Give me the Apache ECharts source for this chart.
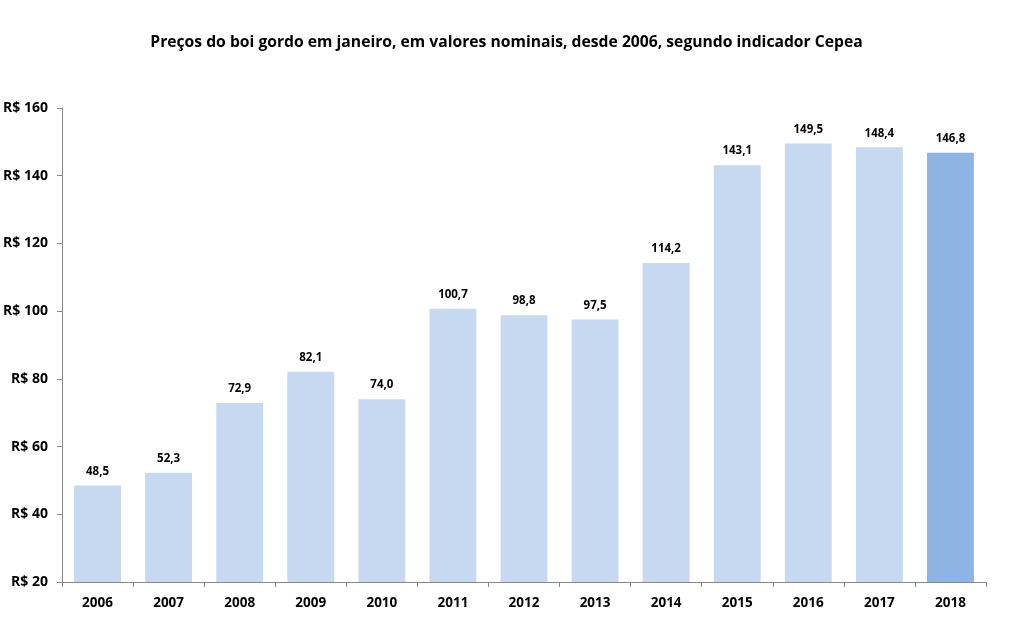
<!DOCTYPE html>
<html>
<head>
<meta charset="utf-8">
<script src="https://cdn.jsdelivr.net/npm/echarts@6/dist/echarts.min.js"></script>
<style>
  html, body { margin: 0; padding: 0; background: #fff; }
  #chart { width: 1013px; height: 632px; }
</style>
</head>
<body>
<div id="chart"></div>
<script>
const years = ["2006", "2007", "2008", "2009", "2010", "2011", "2012", "2013", "2014", "2015", "2016", "2017", "2018"];
const prices = [48.5, 52.3, 72.9, 82.1, 74.0, 100.7, 98.8, 97.5, 114.2, 143.1, 149.5, 148.4, 146.8];
const highlightYear = "2018";

const font = "'Open Sans', 'DejaVu Sans', sans-serif";

const chart = echarts.init(document.getElementById("chart"));

chart.setOption({
  animation: false,
  title: {
    text: "Preços do boi gordo em janeiro, em valores nominais, desde 2006, segundo indicador Cepea",
    left: "center",
    top: 30,
    textStyle: { fontFamily: font, fontSize: 15.7, fontWeight: "bold", color: "#000" }
  },
  grid: { left: 62, right: 27, top: 108, bottom: 50 },
  xAxis: {
    type: "category",
    data: years,
    axisLine: { lineStyle: { color: "#888" } },
    axisTick: { show: true, length: 5, lineStyle: { color: "#888" } },
    axisLabel: { fontFamily: font, fontSize: 13.5, fontWeight: "bold", color: "#000", margin: 14 }
  },
  yAxis: {
    type: "value",
    min: 20,
    max: 160,
    interval: 20,
    axisLine: { show: true, lineStyle: { color: "#888" } },
    axisTick: { show: true, length: 5, lineStyle: { color: "#888" } },
    splitLine: { show: false },
    axisLabel: {
      fontFamily: font, fontSize: 14, fontWeight: "bold", color: "#000", margin: 14,
      formatter: v => "R$ " + v
    }
  },
  series: [{
    type: "bar",
    barWidth: "66%",
    data: prices.map((v, i) => ({
      value: v,
      itemStyle: { color: years[i] === highlightYear ? "#8DB4E2" : "#C6D9F1" }
    })),
    label: {
      show: true,
      position: "top",
      distance: 8,
      fontFamily: font, fontSize: 11.5, fontWeight: "bold", color: "#000",
      formatter: p => p.value.toFixed(1).replace(".", ",")
    }
  }]
});
</script>
</body>
</html>
